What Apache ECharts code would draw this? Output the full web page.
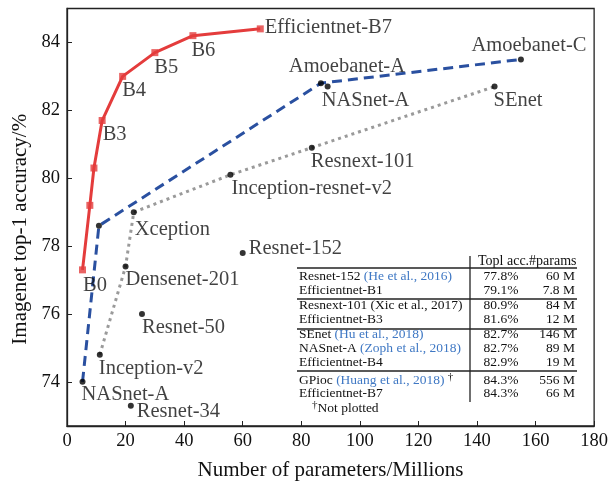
<!DOCTYPE html>
<html>
<head>
<meta charset="utf-8">
<script src="https://cdn.jsdelivr.net/npm/echarts@6/dist/echarts.min.js"></script>
<style>
html,body{margin:0;padding:0;background:#fff;}
#c{width:611px;height:486px;}
</style>
</head>
<body>
<div id="c"></div>
<script>
// ---- data ----
const yTicks = [74, 76, 78, 80, 82, 84];
const effLabels = ['B0', '', '', 'B3', 'B4', 'B5', 'B6', 'Efficientnet-B7'];
const effParams = [5.3, 7.8, 9.2, 12, 19, 30, 43, 66];
const effAcc = [77.3, 79.2, 80.3, 81.7, 83.0, 83.7, 84.2, 84.4];

const nasLabels = ['NASnet-A', '', 'Amoebanet-A', 'Amoebanet-C'];
const nasParams = [5.3, 10.9, 86.7, 155];
const nasAcc = [74.0, 78.6, 82.8, 83.5];

const grayLabels = ['Inception-v2', 'Densenet-201', 'Xception', 'Inception-resnet-v2', 'Resnext-101', 'SEnet'];
const grayParams = [11.2, 20, 22.8, 55.8, 83.6, 146];
const grayAcc = [74.8, 77.4, 79.0, 80.1, 80.9, 82.7];

const otherLabels = ['NASnet-A', 'Resnet-152', 'Resnet-50', 'Resnet-34'];
const otherParams = [89, 60, 25.6, 21.8];
const otherAcc = [82.7, 77.8, 76.0, 73.3];

const tableModels = ['Resnet-152', 'Efficientnet-B1', 'Resnext-101 (Xic et al., 2017)', 'Efficientnet-B3',
  'SEnet', 'NASnet-A', 'Efficientnet-B4', 'GPioc', 'Efficientnet-B7'];
const tableCites = ['(He et al., 2016)', '', '', '', '(Hu et al., 2018)', '(Zoph et al., 2018)', '', '(Huang et al., 2018)', ''];
const tableAcc = ['77.8%', '79.1%', '80.9%', '81.6%', '82.7%', '82.7%', '82.9%', '84.3%', '84.3%'];
const tableParams = ['60 M', '7.8 M', '84 M', '12 M', '146 M', '89 M', '19 M', '556 M', '66 M'];

// ---- styles / placement (not data) ----
const FONT = '"Liberation Serif", "Times New Roman", serif';
const TXT = '#111';
const LFS = 20.5;
const SYM = 6;
// label placement: [align, dx, dy] relative to the point centre
const effPlace = [['left',1,16],null,null,['left',1,15],['left',0,15],['left',0,15],['left',-1,15],['left',5,-1]];
const nasPlace = [['left',-1,13],null,['center',26,-17],['center',8,-14]];
const grayPlace = [['left',-1,14],['left',0,13],['left',1,17],['left',1,14],['left',-1,14],['left',-1,14]];
const otherPlace = [['left',-6,14],['left',6,-4],['left',0,14],['left',6,6]];

function lbl(text, p) {
  if (!text || !p) return {show: false};
  return {show: true, position: [SYM / 2 + p[1], SYM / 2 + p[2]], formatter: text, align: p[0], verticalAlign: 'middle',
    fontFamily: FONT, fontSize: LFS, color: TXT, textBorderWidth: 0};
}
function pts(xs, ys, labels, place) {
  return xs.map((x, i) => ({value: [x, ys[i]], label: lbl(labels[i], place[i])}));
}

const chart = echarts.init(document.getElementById('c'), null, {renderer: 'canvas'});

// table graphics
const g = [];
const rowY = [276.5, 290.5, 305.5, 319.5, 334.5, 348.5, 362.5, 380, 393.5];
const tLeft = 299, tRight = 577, tMid = 470, accX = 501, parX = 575, TFS = 13.5;
g.push({type: 'text', left: 478, top: 254, style: {text: 'Topl acc.#params', font: '14px ' + FONT, fill: TXT}});
[268, 299, 329, 371].forEach(y => g.push({type: 'line', shape: {x1: tLeft - 2, y1: y, x2: tRight, y2: y}, style: {stroke: '#222', lineWidth: 1.3}}));
g.push({type: 'line', shape: {x1: tMid, y1: 256, x2: tMid, y2: 402}, style: {stroke: '#222', lineWidth: 1.3}});
tableModels.forEach((m, i) => {
  let t = '{a|' + m + '}';
  if (tableCites[i]) t += ' {b|' + tableCites[i] + '}';
  if (m === 'GPioc') t += ' {c|†}';
  g.push({type: 'text', x: tLeft, y: rowY[i], style: {text: t, verticalAlign: 'middle', font: TFS + 'px ' + FONT,
    rich: {a: {fontSize: TFS, fontFamily: FONT, fill: TXT}, b: {fontSize: TFS, fontFamily: FONT, fill: '#3f78c4'},
      c: {fontSize: 11, fontFamily: FONT, fill: TXT, verticalAlign: 'top', padding: [0, 0, 6, 0]}}}});
  g.push({type: 'text', x: accX, y: rowY[i], style: {text: tableAcc[i], align: 'center', verticalAlign: 'middle', font: TFS + 'px ' + FONT, fill: TXT}});
  g.push({type: 'text', x: parX, y: rowY[i], style: {text: tableParams[i], align: 'right', verticalAlign: 'middle', font: TFS + 'px ' + FONT, fill: TXT}});
});
g.push({type: 'text', x: 312, y: 408, style: {text: '{c|†}{a|Not plotted}', verticalAlign: 'middle', font: TFS + 'px ' + FONT,
  rich: {a: {fontSize: TFS, fontFamily: FONT, fill: TXT}, c: {fontSize: 11, fontFamily: FONT, fill: TXT, padding: [0, 0, 6, 0]}}}});

chart.setOption({
  animation: false,
  backgroundColor: '#fff',
  grid: {left: 67, right: 14, top: 8.5, bottom: 57.5, show: true, borderColor: '#222', borderWidth: 1.3, backgroundColor: 'transparent'},
  xAxis: {
    type: 'value', min: 0, max: 180, interval: 20,
    name: 'Number of parameters/Millions', nameLocation: 'middle', nameGap: 34,
    nameTextStyle: {fontFamily: FONT, fontSize: 21, color: TXT},
    axisLine: {show: true, lineStyle: {color: '#222', width: 1.3}},
    axisTick: {show: true, inside: true, length: 5, lineStyle: {color: '#222'}},
    axisLabel: {fontFamily: FONT, fontSize: 18.5, color: TXT, margin: 6},
    splitLine: {show: false}
  },
  yAxis: {
    type: 'value', min: 72.7, max: 85,
    name: 'Imagenet top-1 accuracy/%', nameLocation: 'middle', nameGap: 36, nameRotate: 90,
    nameTextStyle: {fontFamily: FONT, fontSize: 21, color: TXT, padding: [0, 24, 0, 0]},
    axisLine: {show: true, lineStyle: {color: '#222', width: 1.3}},
    axisTick: {show: true, inside: true, length: 5, customValues: yTicks, lineStyle: {color: '#222'}},
    axisLabel: {fontFamily: FONT, fontSize: 18.5, color: TXT, margin: 7, customValues: yTicks},
    splitLine: {show: false}
  },
  graphic: g,
  series: [
    {type: 'line', data: nasParams.map((x, i) => [x, nasAcc[i]]), showSymbol: false, z: 2,
      lineStyle: {color: '#2a50a0', width: 3, type: [10, 6]}},
    {type: 'line', data: grayParams.map((x, i) => [x, grayAcc[i]]), showSymbol: false, z: 2,
      lineStyle: {color: '#9a9a9a', width: 3, type: [3, 4]}},
    {type: 'line', data: effParams.map((x, i) => [x, effAcc[i]]), showSymbol: false, z: 3,
      lineStyle: {color: '#e43c3c', width: 3}},
    {type: 'scatter', data: pts(effParams, effAcc, effLabels, effPlace), symbol: 'rect', symbolSize: 7, z: 4,
      itemStyle: {color: '#e43c3c'}},
    {type: 'scatter', data: pts(nasParams, nasAcc, nasLabels, nasPlace), symbolSize: SYM, z: 4, itemStyle: {color: '#000'}},
    {type: 'scatter', data: pts(grayParams, grayAcc, grayLabels, grayPlace), symbolSize: SYM, z: 4, itemStyle: {color: '#000'}},
    {type: 'scatter', data: pts(otherParams, otherAcc, otherLabels, otherPlace), symbolSize: SYM, z: 4, itemStyle: {color: '#000'}}
  ]
});
</script>
</body>
</html>
